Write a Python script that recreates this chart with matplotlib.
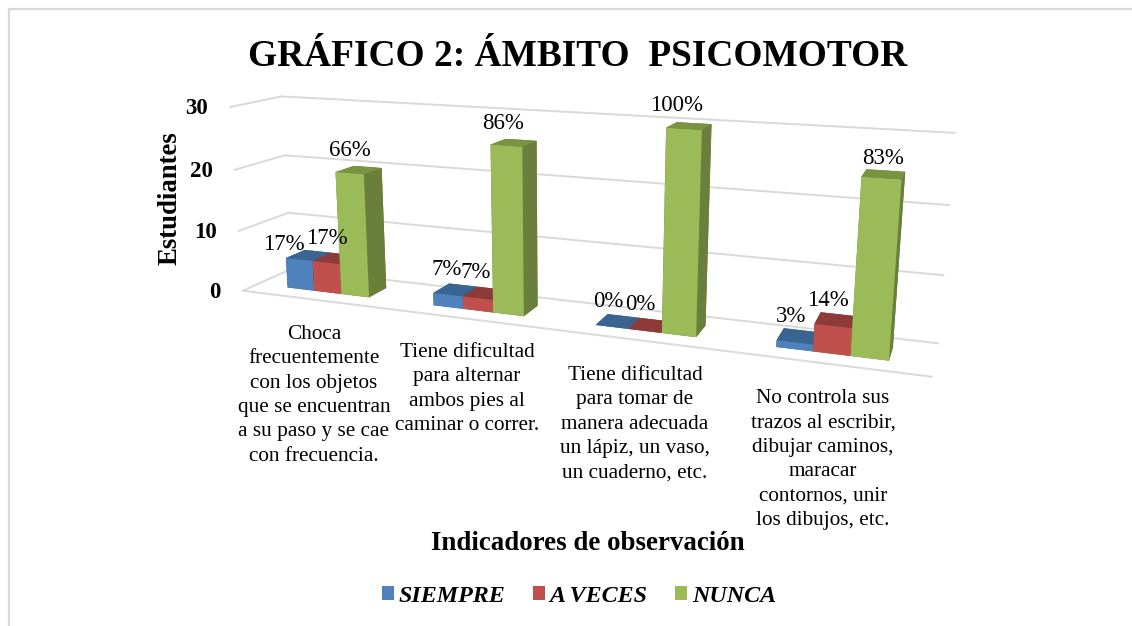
#!/usr/bin/env python3
import numpy as np
import matplotlib
matplotlib.use('Agg')
import matplotlib.pyplot as plt
from matplotlib.lines import Line2D
from matplotlib.patches import Patch
from mpl_toolkits.mplot3d import proj3d

categories = [
    'Choca\nfrecuentemente\ncon los objetos\nque se encuentran\na su paso y se cae\ncon frecuencia.',
    'Tiene dificultad\npara alternar\nambos pies al\ncaminar o correr.',
    'Tiene dificultad\npara tomar de\nmanera adecuada\nun lápiz, un vaso,\nun cuaderno, etc.',
    'No controla sus\ntrazos al escribir,\ndibujar caminos,\nmaracar\ncontornos, unir\nlos dibujos, etc.',
]
seriesNames = ['SIEMPRE', 'A VECES', 'NUNCA']
siempre = [5, 2, 0, 1]
aVeces = [5, 2, 0, 4]
nunca = [20, 26, 30, 25]
siempreLabels = ['17%', '7%', '0%', '3%']
aVecesLabels = ['17%', '7%', '0%', '14%']
nuncaLabels = ['66%', '86%', '100%', '83%']
zTicks = [0, 10, 20, 30]

W, H = 1132, 626
serif = 'Liberation Serif'
plt.rc('font', family=serif)

# front, top/side colours per series
colFront = ['#4F81BD', '#C0504D', '#9BBB59']
colTop = ['#3A6491', '#8E3A38', '#789440']
colSide = ['#3A6491', '#8E3A38', '#6A7F3B']
gridCol = '#D9D9D9'

def fx(x):
    return x / W

def fy(y):
    return 1 - y / H

fig = plt.figure(figsize=(W / 100, H / 100), dpi=100)

# camera values found by fitting the wall corners
scale, tx, ty = 3952.986, 565.844, 219.068
ax = fig.add_axes([0, 0, 1, 1], projection='3d')
vl = ax.viewLim
side = scale * vl.width
left = tx + scale * vl.x0
bottom = ty - scale * vl.y0
ax.set_position([left / W, 1 - bottom / H, side / W, side / H])
ax.view_init(elev=13.48, azim=-69.16)
ax.set_box_aspect((3.5703, 0.45876, 1))
ax.set_proj_type('persp', focal_length=0.29015)
ax.computed_zorder = False
ax.set_axis_off()
ax.patch.set_alpha(0)

# walls
for z in zTicks:
    ax.plot([0, 0, 4], [0, 1, 1], [z, z, z], color=gridCol, lw=1.4, zorder=1, clip_on=False)
ax.plot([0, 4], [0, 0], [0, 0], color=gridCol, lw=1.4, zorder=1, clip_on=False)

barW = 0.19
gapW = 0.215
y0, y1 = 0.3, 0.7
values = [siempre, aVeces, nunca]
labels = [siempreLabels, aVecesLabels, nuncaLabels]
# label offsets in pixels from the bar top centre
dxLabel = [[-25, -9, -9, -7], [-9, -10, -10, -8], [-9, -10.5, -12, -1]]
dyLabel = [[11, 20, 20, 20], [20, 21, 21, 20], [19, 19, 20, 16]]

order = 2
for i in range(4):
    for j in range(3):
        x = i + gapW + j * barW
        val = values[j][i]
        faceCols = [colSide[j], colTop[j], colFront[j], colSide[j], colSide[j], colSide[j]]
        poly = ax.bar3d(x, y0, 0, barW, y1 - y0, val, color=faceCols, shade=False, zorder=order)
        poly.set_clip_on(False)
        order += 1

ax.set_xlim(0, 4)
ax.set_ylim(0, 1)
ax.set_zlim(0, 30)

# 3d points to figure pixels, labels sit on top of the axes as plain 2d text
M = ax.get_proj()

def toPx(x, y, z):
    xp, yp, _ = proj3d.proj_transform(x, y, z, M)
    return ax.transData.transform((xp, yp))

for i in range(4):
    for j in range(3):
        x = i + gapW + (j + 0.5) * barW
        px, py = toPx(x, 0.5, values[j][i])
        fig.text((px + dxLabel[j][i]) / W, (py + dyLabel[j][i]) / H, labels[j][i], fontsize=16.5,
                 ha='center', va='center', color='black')

for z in zTicks:
    px, py = toPx(0, 0, z)
    fig.text((px - 22) / W, (py - 1.5) / H, str(z), fontsize=16.5, fontweight='bold', ha='right', va='center')

fig.text(fx(578), fy(57), 'GRÁFICO 2: ÁMBITO  PSICOMOTOR', fontsize=26.9, fontweight='bold',
         ha='center', va='center')
fig.text(fx(170), fy(198), 'Estudiantes', fontsize=19.3, fontweight='bold', rotation=90,
         ha='center', va='center')
fig.text(fx(588), fy(544), 'Indicadores de observación', fontsize=19.4, fontweight='bold',
         ha='center', va='center')

catX = [314, 467, 635, 823]
catTop = [325, 343, 366, 389]
for name, cx, cy in zip(categories, catX, catTop):
    fig.text(fx(cx), fy(cy), name, fontsize=15.3, ha='center', va='top', linespacing=1.38)

handles = [Patch(facecolor=c, edgecolor='none', label=n) for c, n in zip(colFront, seriesNames)]
fig.legend(handles=handles, loc='center', bbox_to_anchor=(fx(579), fy(596)), ncol=3, frameon=False,
           prop={'family': serif, 'weight': 'bold', 'style': 'italic', 'size': 17.3},
           handlelength=0.5, handleheight=0.5, handletextpad=0.2, columnspacing=1.15)

# chart frame, only left and top fall inside the picture
fig.add_artist(Line2D([fx(9), fx(9), 1], [0, fy(9), fy(9)], color=gridCol, lw=1.6))

fig.savefig('out.png', dpi=100)
